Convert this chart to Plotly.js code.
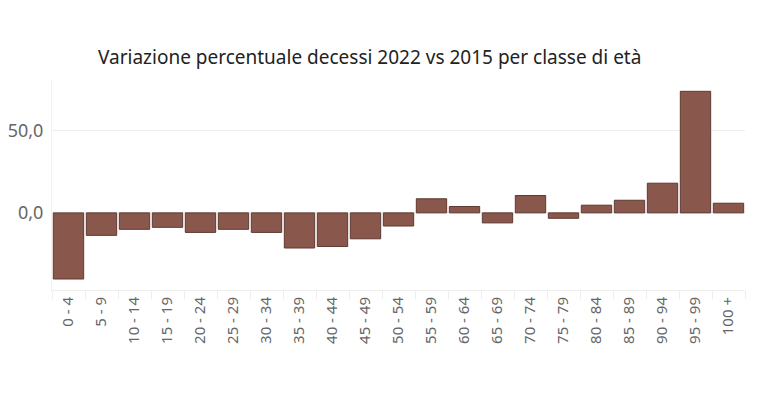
<!DOCTYPE html>
<html>
<head>
<meta charset="utf-8">
<script src="https://cdn.plot.ly/plotly-3.0.1.min.js"></script>
<style>html,body{margin:0;padding:0;background:#fff;}#chart{width:767px;height:396px;}</style>
</head>
<body>
<div id="chart"></div>
<script>
const categories = ["0 - 4","5 - 9","10 - 14","15 - 19","20 - 24","25 - 29","30 - 34","35 - 39","40 - 44","45 - 49","50 - 54","55 - 59","60 - 64","65 - 69","70 - 74","75 - 79","80 - 84","85 - 89","90 - 94","95 - 99","100 +"];
const variazione = [-40.3,-13.7,-10.0,-8.8,-11.9,-10.0,-11.9,-21.4,-20.5,-15.8,-8.0,8.6,3.9,-6.1,10.6,-3.3,4.7,7.7,18.1,74.1,5.9];
const yTicks = [0, 50];

const trace = {
  type: 'bar',
  x: categories,
  y: variazione,
  marker: {color: '#8a574c', line: {color: '#5e3a33', width: 1}},
  hoverinfo: 'x+y'
};

const layout = {
  width: 767, height: 396,
  margin: {l: 52, r: 22, t: 80, b: 106},
  paper_bgcolor: '#fff', plot_bgcolor: '#fff',
  separators: ',.',
  font: {family: 'Noto Sans, sans-serif', color: '#666'},
  title: {text: 'Variazione percentuale decessi 2022 vs 2015 per classe di età',
          font: {size: 19, color: '#222'}, x: 0.482, xanchor: 'center', y: 0.855, yanchor: 'middle'},
  bargap: 0.08,
  showlegend: false,
  xaxis: {
    type: 'category',
    tickangle: -90,
    tickfont: {size: 15, color: '#666'},
    ticks: 'outside', tickson: 'boundaries', ticklen: 8, tickcolor: '#eeeeee',
    showline: true, linecolor: '#eeeeee',
    showgrid: false, zeroline: false, fixedrange: true
  },
  yaxis: {
    range: [-47, 81],
    tickvals: yTicks,
    tickformat: '.1f',
    tickfont: {size: 18, color: '#666'},
    showgrid: true, gridcolor: '#eeeeee',
    zeroline: true, zerolinecolor: '#eeeeee', zerolinewidth: 1,
    showline: true, linecolor: '#f2f2f2',
    ticks: '', ticklabelstandoff: 4, fixedrange: true
  }
};

Plotly.newPlot('chart', [trace], layout, {displayModeBar: false, staticPlot: true});
</script>
</body>
</html>
